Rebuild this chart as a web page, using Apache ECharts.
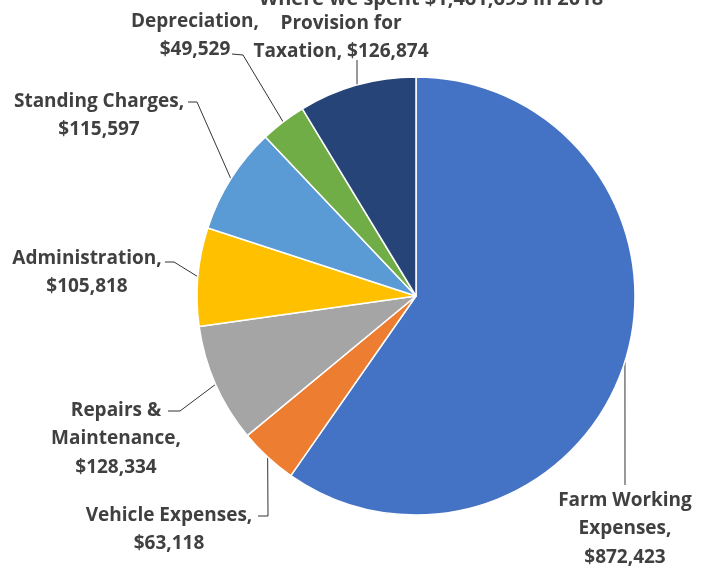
<!DOCTYPE html>
<html>
<head>
<meta charset="utf-8">
<script src="https://cdn.jsdelivr.net/npm/echarts@6/dist/echarts.min.js"></script>
<style>html,body{margin:0;padding:0;background:#fff;}#c{width:705px;height:569px;}</style>
</head>
<body>
<div id="c"></div>
<script>
var titleText = 'Where we spent $1,461,693 in 2018';
var categories = ['Farm Working Expenses', 'Vehicle Expenses', 'Repairs & Maintenance', 'Administration', 'Standing Charges', 'Depreciation', 'Provision for Taxation'];
var values = [872423, 63118, 128334, 105818, 115597, 49529, 126874];
var labelLines = [
  ['Farm Working', 'Expenses,'],
  ['Vehicle Expenses,'],
  ['Repairs &', 'Maintenance,'],
  ['Administration,'],
  ['Standing Charges,'],
  ['Depreciation,'],
  ['Provision for', 'Taxation,']
];
var colors = ['#4472C4', '#ED7D31', '#A5A5A5', '#FFC000', '#5B9BD5', '#70AD47', '#264478'];

// label placement (layout only)
var labelSpec = [
  {x: 625, y: 486, elbow: [625, 485], end: [625, 485]},
  {x: 169, y: 501, elbow: [268, 516], end: [258, 516]},
  {x: 116, y: 396, elbow: [180, 411], end: [168, 411]},
  {x: 87,  y: 244, elbow: [174, 262], end: [165, 262]},
  {x: 99,  y: 87,  elbow: [197, 102], end: [188, 102]},
  {x: 195, y: 7,   elbow: [243, 55],  end: [232, 54]},
  {x: 341, y: 9,   elbow: [357, 60],  end: [357, 60]}
];

function fmt(v) { return '$' + v.toLocaleString('en-US'); }

var data = categories.map(function (c, i) {
  var lines = labelLines[i].slice();
  var last = lines.length - 1;
  if (i === 6) { lines[last] = lines[last] + ' ' + fmt(values[i]); }
  else { lines.push(fmt(values[i])); }
  return {name: c, value: values[i], itemStyle: {color: colors[i]}, label: {formatter: lines.join('\n')}};
});

var FONT = 'Open Sans';
var chart = echarts.init(document.getElementById('c'), null, {renderer: 'canvas'});
chart.setOption({
  animation: false,
  title: {
    text: titleText, left: 426, top: -16, textAlign: 'center',
    textStyle: {fontFamily: FONT, fontWeight: 'bold', fontSize: 20, color: '#404040'}
  },
  series: [{
    type: 'pie',
    center: [416, 296],
    radius: 219,
    startAngle: 90,
    clockwise: true,
    avoidLabelOverlap: false,
    data: data,
    itemStyle: {borderColor: '#ffffff', borderWidth: 1.5},
    label: {
      show: true, position: 'outside',
      fontFamily: FONT, fontWeight: 'bold', fontSize: 19, color: '#404040',
      lineHeight: 28.5, align: 'center'
    },
    labelLine: {show: true, length: 10, length2: 10, lineStyle: {color: '#333333', width: 1}},
    labelLayout: function (p) {
      var s = labelSpec[p.dataIndex];
      var start = p.labelLinePoints ? p.labelLinePoints[0] : s.elbow;
      return {
        x: s.x, y: s.y, align: 'center', verticalAlign: 'top',
        labelLinePoints: [start, s.elbow, s.end]
      };
    }
  }]
});
</script>
</body>
</html>
